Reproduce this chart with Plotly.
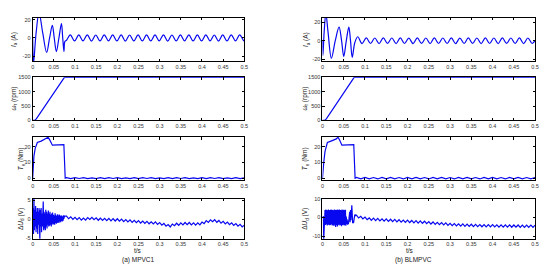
import numpy as np
import plotly.graph_objects as go

# ---------------- data ----------------
x_tick_vals = [0, 0.05, 0.1, 0.15, 0.2, 0.25, 0.3, 0.35, 0.4, 0.45, 0.5]
x_tick_text = ["0", "0.05", "0.1", "0.15", "0.2", "0.25", "0.3", "0.35", "0.4", "0.45", "0.5"]

captions = ["(a) MPVC1", "(b) BLMPVC"]
x_title = "t/s"
y_titles = ["<i>I</i><sub>a</sub> (A)", "<i>ω</i><sub>r</sub> (rpm)",
            "<i>T</i><sub>e</sub> (Nm)", "Δ<i>U</i><sub>d</sub> (V)"]

# y ticks per panel (left column, right column)
ia_ticks = [-20, 0, 20]
ia_tick_text = ["-20", "0", "20"]
sp_ticks = [0, 500, 1000, 1500]
sp_tick_text = ["0", "500", "1000", "1500"]
te_ticks = [0, 10, 20]
te_tick_text = ["0", "10", "20"]
du1_ticks = [-5, 0, 5]
du1_tick_text = ["-5", "0", "5"]
du2_ticks = [-10, 0, 10]
du2_tick_text = ["-10", "0", "10"]

# ---- Phase current Ia, MPVC1 (startup key points + ripple extrema) ----
ia1_start_t = [0, 0.002, 0.008, 0.015, 0.024, 0.033, 0.040, 0.0465, 0.051, 0.056, 0.062, 0.068, 0.071, 0.074, 0.076, 0.080]
ia1_start_v = [0, -28, 5, 28, 5, -16, 0, 14, 0, -15, 0, 16, 0, -15, -4, -2.5]
ia1_ripple_v = [3.5, -3.3, 3.4, -3.2, 3.5, -3.4, 3.3, -3.3, 3.5, -3.2, 3.4, -3.3, 3.5, -3.4,
                3.3, -3.2, 3.4, -3.3, 3.5, -3.3, 3.4, -3.2, 3.5, -3.4, 3.3, -3.3, 3.4, -3.2,
                3.5, -3.3, 3.4, -3.3, 3.5, -3.2, 3.3, -3.4, 3.4, -3.3, 3.5, -3.2, 3.4, -3.3]
ia1_end_v = [-2.5]

# ---- Phase current Ia, BLMPVC ----
ia2_start_t = [0, 0.001, 0.004, 0.008, 0.013, 0.021, 0.030, 0.039, 0.045, 0.050, 0.056, 0.062, 0.066, 0.070, 0.076]
ia2_start_v = [0, -16, 10, 30, 10, -19, 0, 15, 0, -17, 0, 15, 0, -18, -2]
ia2_ripple_v = [4.5, -3.0, 3.2, -2.9, 3.1, -3.0, 3.2, -2.8, 3.1, -3.0, 3.2, -2.9, 3.0, -3.0,
                3.2, -2.8, 3.1, -3.0, 3.2, -2.9, 3.1, -2.9, 3.2, -3.0, 3.0, -2.9, 3.2, -2.8,
                3.1, -3.0, 3.2, -2.9, 3.1, -3.0, 3.2, -2.8, 3.1, -2.9, 3.2, -3.0, 3.1, -2.9]
ia2_end_v = [0.5]

# ---- Speed ----
sp1_t = [0, 0.005, 0.009, 0.075, 0.5]
sp1_v = [0, 0, 60, 1500, 1500]
sp2_t = [0, 0.0055, 0.0095, 0.0745, 0.5]
sp2_v = [0, 0, 60, 1500, 1500]

# ---- Electromagnetic torque ----
te1_start_t = [0, 0.0015, 0.003, 0.006, 0.011, 0.02, 0.03, 0.0365, 0.04, 0.0466, 0.06, 0.0737, 0.0769]
te1_start_v = [0, 8, 14, 19, 22.7, 23.6, 24.8, 26.0, 24.5, 21.0, 21.2, 21.4, 0]
te1_tail_v = [0.3, -0.3, 0.3, -0.2, 0.3, -0.3, 0.2, -0.3, 0.3, -0.3, 0.3, -0.2, 0.3, -0.3,
              0.2, -0.3, 0.3, -0.3, 0.3, -0.2, 0.3, -0.3, 0.2, -0.3, 0.3, -0.3, 0.3, -0.2,
              0.3, -0.3, 0.2, -0.3, 0.3, -0.3, 0.3, -0.2, 0.3, -0.3, 0.2, -0.3, 0.3, -0.3, 0.2]
te2_start_t = [0, 0.001, 0.003, 0.006, 0.0116, 0.02, 0.0326, 0.0364, 0.04, 0.0457, 0.06, 0.0736, 0.0767]
te2_start_v = [0, 6, 10, 17, 22.7, 23.6, 25.0, 26.1, 24.5, 21.0, 21.2, 21.4, 0]
te2_tail_v = [0.5, -0.4, 0.5, -0.4, 0.4, -0.5, 0.5, -0.4, 0.5, -0.4, 0.4, -0.5, 0.5, -0.4,
              0.5, -0.4, 0.4, -0.5, 0.5, -0.4, 0.5, -0.4, 0.4, -0.5, 0.5, -0.4, 0.5, -0.4,
              0.4, -0.5, 0.5, -0.4, 0.5, -0.4, 0.4, -0.5, 0.5, -0.4, 0.5, -0.4, 0.4, -0.5, 0.4]

# ---- DC-link voltage deviation, MPVC1 (1 ms samples to 0.075 s, then 5 ms) ----
du1_noise_v = [0, 3, -4, 5.8, -3, 2.5, -2, 3.5, -3.5, 2, -2.5, 3, -4, 2, -1.5, 3, -3, -5.8, 2.5, -2,
               3, -3.5, 1.5, -2, 2, 4.7, -3, 2, -2.5, 1.5, -3, 2.5, -2, 2, -2.5, 1.5, -1.5, 2.3, -2, 1.5,
               -1.8, 2, -1.5, 1.2, -2, 1.5, -1.2, 1.8, -1.5, 1.2, -1.3, 1.0, -1.5, 1.6, -1, 1.2, -1.2, 0.8,
               -1, 1.3, -0.8, 1, -1, 1.2, -0.6, 0.8, -0.8, 1, -0.5, 0.9, -0.6, 0.7, -0.4, 1.0, 0.1, 0.8]
du1_ripple_v = [0.8, 0.1, 0.6, -0.05, 0.5, -0.15, 0.4, -0.25, 0.3, -0.25, 0.4, -0.1, 0.5, -0.15,
                0.35, -0.3, 0.25, -0.35, 0.2, -0.4, 0.2, -0.45, 0.15, -0.5, 0.1, -0.55, 0.0, -0.65,
                -0.1, -0.75, -0.2, -0.85, -0.3, -0.95, -0.4, -1.05, -0.5, -1.15, -0.6, -1.25, -0.7,
                -1.3, -0.75, -1.4, -0.9, -1.6, -1.15, -1.9, -1.45, -2.1, -1.3, -1.75, -1.1, -1.65,
                -1.0, -1.55, -0.9, -1.5, -0.9, -1.55, -1.0, -1.6, -1.0, -1.55, -0.8, -1.2, -0.4,
                -0.9, -0.2, -0.7, -0.15, -0.85, -0.35, -1.1, -0.6, -1.3, -0.8, -1.5, -1.0, -1.7,
                -1.2, -1.9, -1.4, -2.1, -1.6]

# ---- DC-link voltage deviation, BLMPVC ----
du2_noise_v = [0.5, 0.3, 0.5, -11.5, -2, 0, 4, -4, 4.2, -3.5, 4, -4.3, 3.8, -4, 4.2, -3.8, 4, -4.2,
               3.9, -4, 4.2, -3.6, 4.1, -4.3, 4, -4, 3.8, -4.5, 4.2, -3.9, 4, -5, 4.1, -4, 3.9, -4.8,
               4.2, -4.1, 4, -3.8, 4.2, -4.3, 4, -4, 3.8, -4.6, 4.2, -4, 4, -3.9, 4.1, -4.3, 3.9, -4,
               4.1, -4.4, 0.5, -3.5, -1, -3.8, -2, -3.6, -1, -3, 3, -2.5, 4, -1.5, 5, 6.5, 2, -3, -2,
               -3, -1, -0.5, 1.5, 1.2, 0.8, 1.3]
du2_ripple_v = [1.2, -0.3, 0.6, -0.8, 0.2, -1.2, -0.25, -1.55, -0.4, -1.65, -0.5, -1.8, -0.7,
                -1.95, -0.8, -2.1, -0.95, -2.2, -1.05, -2.35, -1.2, -2.45, -1.35, -2.6, -1.45, -2.7,
                -1.6, -2.85, -1.7, -3.0, -1.85, -3.1, -2.0, -3.3, -2.2, -3.5, -2.4, -3.65, -2.55,
                -3.8, -2.7, -4.0, -2.9, -4.2, -3.1, -4.35, -3.25, -4.5, -3.35, -4.6, -3.45, -4.7,
                -3.55, -4.8, -3.6, -4.85, -3.7, -4.9, -3.75, -4.95, -3.8, -5.0, -3.8, -5.05, -3.85,
                -5.05, -3.9, -5.1, -3.9, -5.1, -3.9, -5.15, -3.95, -5.2, -4.0, -5.2, -4.0, -5.25,
                -4.05, -5.25, -4.1, -5.3, -4.1, -5.3, -4.1]

# ---------------- assemble sample times ----------------
def grid(start, step, n):
    return list(np.round(start + step * np.arange(n), 4))

ia1_t = ia1_start_t + grid(0.089, 0.01, len(ia1_ripple_v)) + [0.5]
ia1_v = ia1_start_v + ia1_ripple_v + ia1_end_v
ia2_t = ia2_start_t + grid(0.083, 0.01, len(ia2_ripple_v)) + [0.5]
ia2_v = ia2_start_v + ia2_ripple_v + ia2_end_v
te1_t = te1_start_t + grid(0.08, 0.01, len(te1_tail_v))
te1_v = te1_start_v + te1_tail_v
te2_t = te2_start_t + grid(0.08, 0.01, len(te2_tail_v))
te2_v = te2_start_v + te2_tail_v
du1_t = grid(0, 0.001, len(du1_noise_v)) + grid(0.08, 0.005, len(du1_ripple_v))
du1_v = du1_noise_v + du1_ripple_v
du2_t = grid(0, 0.001, len(du2_noise_v)) + grid(0.08, 0.005, len(du2_ripple_v))
du2_v = du2_noise_v + du2_ripple_v

# ---------------- layout geometry ----------------
W, H = 550, 274
col_px = [(31, 245), (324, 539)]
row_px = [(15, 59.5), (76, 120), (137, 181), (200, 241)]

def xd(a, b):
    return [a / W, b / W]

def yd(top, bot):
    return [1 - bot / H, 1 - top / H]

BLUE = "#0808f0"
FAMILY = "Liberation Sans, Arial, sans-serif"
TICKFONT = dict(family=FAMILY, size=5.5, color="#333333")

fig = go.Figure()

panels = [
    # (col, row, t, v, shape, yrange, yticks, yticktext)
    (0, 0, ia1_t, ia1_v, "spline", [-25.7, 22.5], ia_ticks, ia_tick_text),
    (0, 1, sp1_t, sp1_v, "linear", [0, 1500], sp_ticks, sp_tick_text),
    (0, 2, te1_t, te1_v, "linear", [-1.2, 26.2], te_ticks, te_tick_text),
    (0, 3, du1_t, du1_v, "linear", [-5.25, 5.5], du1_ticks, du1_tick_text),
    (1, 0, ia2_t, ia2_v, "spline", [-22.2, 25.3], ia_ticks, ia_tick_text),
    (1, 1, sp2_t, sp2_v, "linear", [0, 1500], sp_ticks, sp_tick_text),
    (1, 2, te2_t, te2_v, "linear", [-1.2, 26.2], te_ticks, te_tick_text),
    (1, 3, du2_t, du2_v, "linear", [-11.3, 10.0], du2_ticks, du2_tick_text),
]

layout = dict(
    width=W, height=H, margin=dict(l=0, r=0, t=0, b=0),
    paper_bgcolor="white", plot_bgcolor="white", showlegend=False,
    font=dict(family=FAMILY, color="#222222", size=6),
)

annotations = []
ytitle_x = [[12.7, 11.7, 19.0, 18.5], [308.0, 306.0, 306.0, 306.5]]

for i, (c, r, t, v, shape, yr, yt, ytt) in enumerate(panels):
    n = i + 1
    xs = "" if n == 1 else str(n)
    fig.add_trace(go.Scatter(x=t, y=v, mode="lines",
                             line=dict(color=BLUE, width=1.2, shape=shape),
                             xaxis="x" + xs, yaxis="y" + xs, hoverinfo="skip"))
    common = dict(showline=True, linecolor="black", linewidth=1, mirror="ticks",
                  ticks="inside", ticklen=2.5, tickwidth=0.8, tickcolor="black",
                  showgrid=False, zeroline=False, tickfont=TICKFONT)
    layout["xaxis" + xs] = dict(common, domain=xd(*col_px[c]), range=[0, 0.5],
                                tickmode="array", tickvals=x_tick_vals, ticktext=x_tick_text,
                                anchor="y" + xs)
    layout["yaxis" + xs] = dict(common, domain=yd(*row_px[r]), range=yr,
                                tickmode="array", tickvals=yt, ticktext=ytt,
                                anchor="x" + xs)
    top, bot = row_px[r]
    annotations.append(dict(text=y_titles[r], xref="paper", yref="paper",
                            x=ytitle_x[c][r] / W, y=1 - (top + bot) / 2 / H,
                            xanchor="center", yanchor="middle", textangle=-90,
                            showarrow=False,
                            font=dict(size=6.5, family=FAMILY, color="#222222")))

cap_x = [138, 416]
tlab_x = [137.5, 412.5]
for c in range(2):
    annotations.append(dict(text=x_title, xref="paper", yref="paper",
                            x=tlab_x[c] / W, y=1 - 253.5 / H, xanchor="center", yanchor="middle",
                            showarrow=False, font=dict(size=6.5, family=FAMILY, color="#222222")))
    annotations.append(dict(text=captions[c], xref="paper", yref="paper",
                            x=cap_x[c] / W, y=1 - 263 / H, xanchor="center", yanchor="middle",
                            showarrow=False, font=dict(size=6.5, family=FAMILY, color="#222222")))

layout["annotations"] = annotations
fig.update_layout(**layout)
fig.write_html("out.html")
